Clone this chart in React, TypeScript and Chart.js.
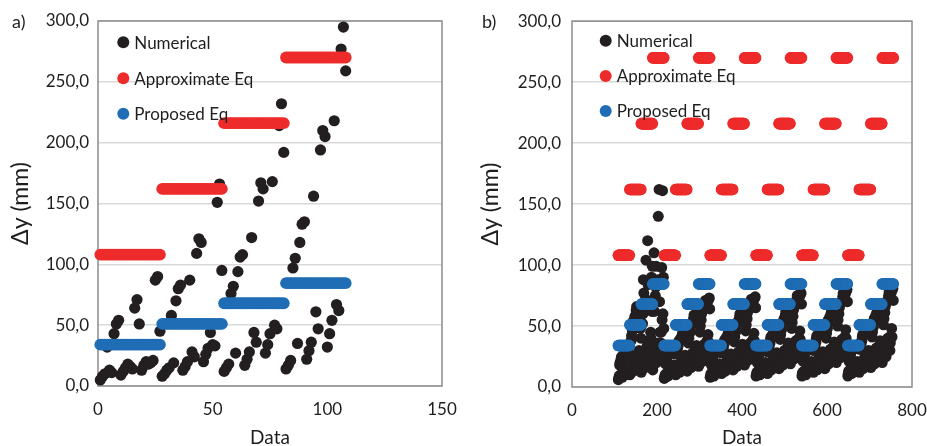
import React, { useEffect, useRef } from 'react';
import { Chart, registerables } from 'chart.js';

Chart.register(...registerables);

// ---------------- data ----------------
const GROUP_SIZE = 27;
const approxLevels = [108, 162, 216, 270];
const proposedLevels = [34, 51, 68, 84.5];
const seriesNames = ['Numerical', 'Approximate Eq', 'Proposed Eq'];

const yRange = [0, 300];
const yStep = 50;
const panelAXRange = [0, 150];
const panelAXStep = 50;
const panelBXRange = [0, 800];
const panelBXStep = 200;

const panelAStartX = 1;
const panelBStartX = 109;

const panelANumerical = [
  5, 8, 10, 32, 13, 11, 43, 51, 54, 9, 12, 15, 18, 16, 14, 64, 71, 51, 13, 17, 20, 18, 19, 21, 87, 90, 45,
  8, 10, 13, 15, 58, 19, 70, 80, 83, 13, 16, 20, 87, 28, 24, 109, 121, 118, 20, 26, 31, 44, 34, 33, 151, 166, 95,
  12, 15, 18, 76, 82, 27, 94, 106, 108, 17, 22, 28, 122, 44, 36, 152, 167, 162, 27, 34, 43, 168, 50, 47, 214, 232, 192,
  14, 17, 21, 97, 105, 35, 118, 133, 135, 22, 29, 36, 156, 61, 47, 194, 210, 205, 32, 43, 54, 218, 67, 62, 277, 295, 259,
];

const panelBCycle1 = [
  6, 7, 9, 18, 20, 10, 22, 24, 25, 8, 10, 12, 26, 13, 11, 24, 27, 28, 10, 13, 15, 27, 16, 14, 26, 28, 25,
  10, 12, 15, 38, 42, 17, 46, 52, 54, 13, 17, 20, 58, 24, 20, 63, 66, 60, 17, 22, 27, 55, 30, 28, 62, 48, 40,
  12, 15, 18, 52, 60, 88, 77, 22, 66, 16, 72, 104, 21, 26, 34, 120, 84, 28, 22, 30, 37, 86, 45, 40, 90, 62, 99,
  14, 18, 22, 110, 62, 26, 75, 82, 99, 20, 26, 32, 88, 140, 36, 162, 70, 45, 28, 36, 45, 98, 55, 161, 60, 90, 48,
];
const panelBCycle2 = [
  7, 8, 10, 19, 21, 11, 23, 25, 26, 9, 11, 13, 27, 15, 12, 28, 30, 29, 11, 14, 16, 29, 18, 15, 30, 31, 27,
  10, 12, 14, 28, 31, 15, 34, 37, 38, 12, 15, 18, 40, 21, 17, 42, 44, 41, 15, 19, 23, 43, 26, 22, 45, 46, 39,
  13, 15, 18, 36, 40, 20, 44, 48, 50, 16, 20, 24, 53, 28, 23, 56, 59, 55, 20, 25, 30, 58, 34, 29, 61, 62, 52,
  17, 20, 23, 45, 50, 25, 55, 60, 62, 21, 26, 31, 65, 35, 29, 68, 71, 66, 26, 32, 38, 70, 43, 37, 72, 73, 64,
];
const panelBCycle3 = [
  8, 9, 11, 18, 22, 12, 24, 26, 27, 9, 12, 14, 28, 16, 13, 29, 31, 30, 12, 15, 17, 30, 19, 16, 31, 32, 28,
  11, 13, 15, 29, 32, 16, 35, 38, 39, 13, 16, 19, 41, 22, 18, 43, 45, 42, 16, 20, 24, 44, 27, 23, 46, 47, 40,
  14, 16, 19, 37, 41, 21, 45, 49, 51, 17, 21, 25, 54, 29, 24, 57, 60, 56, 21, 26, 31, 59, 35, 30, 62, 63, 53,
  18, 21, 24, 46, 51, 26, 56, 61, 63, 22, 27, 32, 66, 36, 30, 69, 72, 67, 27, 33, 39, 71, 44, 38, 73, 74, 65,
];
const panelBCycle4 = [
  9, 10, 12, 20, 23, 13, 25, 27, 28, 10, 12, 15, 29, 17, 14, 30, 32, 31, 12, 16, 18, 31, 20, 17, 32, 33, 29,
  11, 14, 16, 30, 33, 17, 36, 39, 41, 14, 17, 20, 43, 23, 19, 45, 47, 44, 17, 21, 25, 46, 28, 24, 48, 49, 42,
  15, 17, 20, 39, 43, 22, 47, 51, 53, 18, 22, 26, 56, 30, 25, 59, 62, 58, 22, 27, 32, 61, 36, 31, 64, 65, 55,
  19, 22, 25, 48, 53, 27, 58, 63, 65, 23, 28, 33, 68, 38, 31, 72, 75, 70, 28, 34, 40, 74, 46, 39, 76, 77, 68,
];
const panelBCycle5 = [
  9, 11, 12, 21, 24, 13, 26, 28, 29, 10, 13, 15, 30, 17, 14, 31, 33, 32, 13, 16, 19, 32, 21, 17, 33, 34, 30,
  12, 14, 17, 31, 34, 18, 37, 40, 42, 14, 18, 21, 44, 24, 20, 46, 48, 45, 18, 22, 26, 47, 29, 25, 49, 50, 43,
  15, 18, 21, 40, 44, 23, 48, 52, 55, 19, 23, 27, 58, 31, 26, 61, 64, 60, 23, 28, 33, 63, 37, 32, 66, 67, 57,
  20, 23, 26, 50, 55, 28, 60, 65, 67, 24, 29, 34, 70, 39, 32, 74, 77, 72, 29, 35, 41, 76, 47, 40, 79, 80, 70,
];
const panelBCycle6 = [
  9, 11, 13, 21, 24, 14, 26, 28, 30, 11, 13, 16, 31, 18, 15, 32, 34, 33, 13, 17, 19, 33, 21, 18, 34, 35, 31,
  12, 15, 17, 32, 35, 18, 38, 41, 43, 15, 18, 22, 45, 25, 21, 47, 49, 46, 18, 23, 27, 48, 30, 26, 50, 51, 44,
  16, 18, 21, 41, 45, 24, 49, 53, 56, 19, 24, 28, 59, 32, 27, 62, 65, 61, 24, 29, 34, 64, 38, 33, 67, 68, 58,
  20, 24, 27, 51, 56, 29, 61, 66, 68, 25, 30, 35, 71, 40, 33, 75, 78, 73, 30, 36, 42, 77, 48, 41, 80, 81, 71,
];

const panelBNumerical = [
  ...panelBCycle1, ...panelBCycle2, ...panelBCycle3,
  ...panelBCycle4, ...panelBCycle5, ...panelBCycle6,
];

// ---------------- styling ----------------
const BLACK = '#231f20';
const RED = '#ee2b2b';
const BLUE = '#1f6db5';
const TEXT = '#1e1e1e';
const FONT = 'Lato';
const seriesColors = [BLACK, RED, BLUE];

function numericalPoints(values: number[], startX: number) {
  return values.map((v, i) => ({ x: startX + i, y: v }));
}

function levelPoints(count: number, startX: number, levels: number[]) {
  const pts: { x: number; y: number }[] = [];
  for (let i = 0; i < count; i++) {
    const g = Math.floor(i / GROUP_SIZE) % levels.length;
    pts.push({ x: startX + i, y: levels[g] });
  }
  return pts;
}

const decorPlugin = {
  id: 'decor',
  beforeDatasetsDraw(chart: any) {
    const { ctx, chartArea: a } = chart;
    ctx.save();
    ctx.strokeStyle = '#8c8c8c';
    ctx.lineWidth = 1.5;
    ctx.strokeRect(a.left, a.top, a.right - a.left, a.bottom - a.top);
    ctx.restore();
  },
  afterDatasetsDraw(chart: any, _args: any, opts: any) {
    const { ctx, chartArea: a } = chart;
    ctx.save();
    ctx.fillStyle = TEXT;
    ctx.font = `18px ${FONT}`;
    ctx.textAlign = 'left';
    ctx.textBaseline = 'middle';
    ctx.fillText(opts.label, 12, 22);
    ctx.font = `17px ${FONT}`;
    const cx = a.left + opts.legendDx;
    seriesNames.forEach((name, i) => {
      const y = opts.legendY[i];
      ctx.beginPath();
      ctx.fillStyle = seriesColors[i];
      ctx.arc(cx, y, 6, 0, Math.PI * 2);
      ctx.fill();
      ctx.fillStyle = TEXT;
      ctx.fillText(name, cx + 11, y + 1);
    });
    ctx.restore();
  },
};

function makeConfig(p: {
  numerical: number[];
  startX: number;
  xRange: number[];
  xStep: number;
  yAxisWidth: number;
  xAxisHeight: number;
  padRight: number;
  tickPad: number;
  radius: number;
  label: string;
  legendDx: number;
  legendY: number[];
}) {
  const n = p.numerical.length;
  const fmt = (v: any) => Number(v).toFixed(1).replace('.', ',');
  return {
    type: 'scatter',
    data: {
      datasets: [
        {
          label: seriesNames[0],
          data: numericalPoints(p.numerical, p.startX),
          backgroundColor: BLACK,
          borderWidth: 0,
          pointRadius: p.radius,
          pointHoverRadius: p.radius,
          order: 3,
          clip: false,
        },
        {
          label: seriesNames[1],
          data: levelPoints(n, p.startX, approxLevels),
          backgroundColor: RED,
          borderWidth: 0,
          pointRadius: p.radius + 0.3,
          pointHoverRadius: p.radius + 0.3,
          order: 1,
          clip: false,
        },
        {
          label: seriesNames[2],
          data: levelPoints(n, p.startX, proposedLevels),
          backgroundColor: BLUE,
          borderWidth: 0,
          pointRadius: p.radius + 0.3,
          pointHoverRadius: p.radius + 0.3,
          order: 2,
          clip: false,
        },
      ],
    },
    options: {
      responsive: false,
      animation: false,
      devicePixelRatio: 1,
      events: [],
      layout: { padding: { left: 0, top: 21, right: p.padRight, bottom: 0 } },
      plugins: {
        legend: { display: false },
        tooltip: { enabled: false },
        decor: { label: p.label, legendDx: p.legendDx, legendY: p.legendY },
      },
      scales: {
        x: {
          type: 'linear',
          min: p.xRange[0],
          max: p.xRange[1],
          afterFit: (s: any) => {
            s.height = p.xAxisHeight;
          },
          grid: { display: false, drawTicks: false },
          border: { display: false },
          ticks: {
            stepSize: p.xStep,
            padding: 0,
            maxRotation: 0,
            color: TEXT,
            font: { family: FONT, size: 17, lineHeight: 2.82 },
          },
          title: {
            display: true,
            text: 'Data',
            color: TEXT,
            font: { family: FONT, size: 19, lineHeight: 1 },
            padding: { top: 0, bottom: -1.5 },
          },
        },
        y: {
          type: 'linear',
          min: yRange[0],
          max: yRange[1],
          afterFit: (s: any) => {
            s.width = p.yAxisWidth;
          },
          grid: { color: '#d9d9d9', lineWidth: 1.5, drawTicks: false },
          border: { display: false },
          ticks: {
            stepSize: yStep,
            padding: p.tickPad,
            color: TEXT,
            font: { family: FONT, size: 17 },
            callback: fmt,
          },
          title: {
            display: true,
            text: 'Δy (mm)',
            color: TEXT,
            font: { family: FONT, size: 23, lineHeight: 1.2 },
            padding: { top: 7, bottom: 0 },
          },
        },
      },
    },
    plugins: [decorPlugin],
  } as any;
}

function Panel(props: { left: number; width: number; config: any }) {
  const ref = useRef<HTMLCanvasElement | null>(null);
  useEffect(() => {
    if (!ref.current) return;
    const chart = new Chart(ref.current, props.config);
    return () => chart.destroy();
  }, []);
  return (
    <canvas
      ref={ref}
      width={props.width}
      height={446}
      style={{ position: 'absolute', left: props.left, top: 0, width: props.width, height: 446 }}
    />
  );
}

export default function App() {
  const configA = makeConfig({
    numerical: panelANumerical,
    startX: panelAStartX,
    xRange: panelAXRange,
    xStep: panelAXStep,
    yAxisWidth: 98,
    xAxisHeight: 60,
    padRight: 28,
    tickPad: 9,
    radius: 5.6,
    label: 'a)',
    legendDx: 25.3,
    legendY: [42.3, 78.3, 113.7],
  });
  const configB = makeConfig({
    numerical: panelBNumerical,
    startX: panelBStartX,
    xRange: panelBXRange,
    xStep: panelBXStep,
    yAxisWidth: 102,
    xAxisHeight: 59,
    padRight: 15,
    tickPad: 11,
    radius: 5.5,
    label: 'b)',
    legendDx: 33.7,
    legendY: [40.7, 76, 111],
  });
  return (
    <div style={{ position: 'absolute', left: 0, top: 0, width: 927, height: 446, background: '#fff', overflow: 'hidden' }}>
      <Panel left={0} width={470} config={configA} />
      <Panel left={470} width={457} config={configB} />
    </div>
  );
}
